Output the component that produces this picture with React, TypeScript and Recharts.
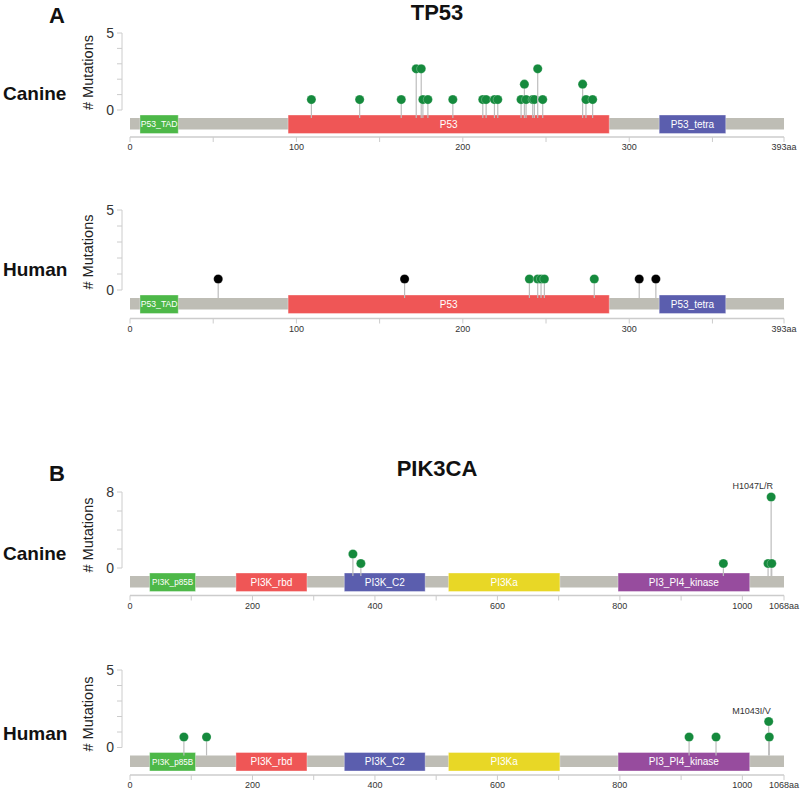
import React from 'react';
import { ComposedChart, XAxis, YAxis, Scatter, ReferenceArea, ReferenceLine } from 'recharts';

const FONT = 'Arial, "Liberation Sans", Helvetica, sans-serif';

// ---------------- TP53 ----------------
const tp53Length = 393;
const tp53DomainNames = ['P53_TAD', 'P53', 'P53_tetra'];
const tp53DomainStarts = [6, 95, 318];
const tp53DomainEnds = [29, 288, 358];
const tp53DomainColors = ['#4db848', '#ef5656', '#5b5eae'];
const tp53XTicks = [0, 50, 100, 150, 200, 250, 300, 350, 393];
const tp53XLabels = [0, 100, 200, 300];

const canineTp53Positions = [109, 138, 163, 172, 175, 176, 179, 194, 212, 214, 219, 221, 235, 237, 238, 242, 243, 245, 248, 272, 274, 278];
const canineTp53Counts = [1, 1, 1, 3, 3, 1, 1, 1, 1, 1, 1, 1, 1, 2, 1, 1, 1, 3, 1, 2, 1, 1];

const humanTp53MissensePositions = [240, 245, 247, 249, 279];
const humanTp53MissenseCounts = [1, 1, 1, 1, 1];
const humanTp53TruncatingPositions = [53, 165, 306, 316];
const humanTp53TruncatingCounts = [1, 1, 1, 1];

// ---------------- PIK3CA ----------------
const pik3caLength = 1068;
const pik3caDomainNames = ['PI3K_p85B', 'PI3K_rbd', 'PI3K_C2', 'PI3Ka', 'PI3_PI4_kinase'];
const pik3caDomainStarts = [32, 173, 350, 520, 797];
const pik3caDomainEnds = [107, 289, 482, 702, 1012];
const pik3caDomainColors = ['#4db848', '#ef5656', '#5b5eae', '#e8d726', '#974c9e'];
const pik3caXTicks = [0, 100, 200, 300, 400, 500, 600, 700, 800, 900, 1000, 1068];
const pik3caXLabels = [0, 200, 400, 600, 800, 1000];

const caninePik3caPositions = [364, 377, 969, 1042, 1047, 1048];
const caninePik3caCounts = [2, 1, 1, 1, 8, 1];
const caninePik3caLabels = ['', '', '', '', 'H1047L/R', ''];

const humanPik3caPositions = [88, 125, 913, 957, 1043, 1044];
const humanPik3caCounts = [1, 1, 1, 1, 2, 1];
const humanPik3caLabels = ['', '', '', '', 'M1043I/V', ''];

const MISSENSE = '#158a3d';
const TRUNCATING = '#000000';

type Mut = { pos: number; count: number; label?: string };
type Dom = { name: string; start: number; end: number; color: string };

const toMuts = (p: number[], c: number[], l?: string[]): Mut[] =>
  p.map((pos, i) => ({ pos, count: c[i], label: l ? l[i] : '' }));
const toDoms = (n: string[], s: number[], e: number[], c: string[]): Dom[] =>
  n.map((name, i) => ({ name, start: s[i], end: e[i], color: c[i] }));

type Geom = { top: number; zero: number; axis: number };

function Panel(props: {
  geom: Geom;
  length: number;
  maxY: number;
  yTicks: number[];
  xTicks: number[];
  xLabels: number[];
  domains: Dom[];
  series: { data: Mut[]; color: string }[];
}) {
  const { geom, length, maxY, yTicks, xTicks, xLabels, domains, series } = props;
  const M = 15;
  const { top, zero, axis } = geom;
  const plotH = axis - top;
  const chartTop = top - M;
  const bottomH = 24;
  const height = M + plotH + bottomH;
  const plotLeft = 122;
  const plotRight = 784;
  const x0 = 130;
  const unitX = (plotRight - x0) / length;
  const xMin = -(x0 - plotLeft) / unitX;
  const perPx = maxY / (zero - top);
  const vMin = -(axis - zero) * perPx;
  // track offsets below the zero line (pixels -> axis units)
  const barTop = -8 * perPx;
  const barBottom = -19.5 * perPx;
  const boxTop = -5 * perPx;
  const boxBottom = -23.5 * perPx;
  const stemBottom = zero + 8 - chartTop;

  const makeShape = (color: string) => (p: any) => {
    const { cx, cy, payload } = p;
    const dy = cy + 5;
    return (
      <g>
        <line x1={cx} x2={cx} y1={stemBottom} y2={dy} stroke="#bdbdbd" strokeWidth={1.2} />
        <circle cx={cx} cy={dy} r={4.6} fill={color} stroke="#ffffff" strokeOpacity={0.5} strokeWidth={0.5} />
        {payload && payload.label ? (
          <text x={cx + 2} y={cy - 3} textAnchor="end" fontSize={9} fill="#333" fontFamily={FONT}>
            {payload.label}
          </text>
        ) : null}
      </g>
    );
  };

  return (
    <div style={{ position: 'absolute', left: 0, top: chartTop }}>
      <ComposedChart width={800} height={height} margin={{ top: M, right: 800 - plotRight, bottom: 0, left: 0 }}>
        <XAxis
          type="number"
          dataKey="pos"
          domain={[xMin, length]}
          ticks={xTicks}
          interval={0}
          axisLine={false}
          tickLine={{ stroke: '#cccccc' }}
          tickSize={5}
          height={bottomH}
          tick={{ fontSize: 9, fill: '#333', fontFamily: FONT }}
          tickFormatter={(v: number) => (v === length ? `${length}aa` : xLabels.includes(v) ? String(v) : '')}
        />
        <YAxis
          yAxisId="v"
          type="number"
          dataKey="count"
          domain={[vMin, maxY]}
          ticks={yTicks}
          interval={0}
          width={plotLeft}
          axisLine={false}
          tickLine={{ stroke: '#cccccc' }}
          tickSize={5}
          tickMargin={3}
          tick={{ fontSize: 14, fill: '#333', fontFamily: FONT }}
          tickFormatter={(v: number) => (v === 0 || v === maxY ? String(v) : '')}
        />
        <ReferenceLine
          yAxisId="v"
          segment={[{ x: xMin, y: 0 }, { x: xMin, y: maxY }]}
          stroke="#cccccc"
          ifOverflow="visible"
        />
        <ReferenceLine
          yAxisId="v"
          segment={[{ x: 0, y: vMin }, { x: length, y: vMin }]}
          stroke="#cccccc"
          strokeWidth={1.5}
          ifOverflow="visible"
        />
        <ReferenceArea
          yAxisId="v"
          x1={0}
          x2={length}
          y1={barTop}
          y2={barBottom}
          fill="#bebdb5"
          fillOpacity={1}
          stroke="none"
          ifOverflow="visible"
        />
        {domains.map((d) => (
          <ReferenceArea
            key={d.name}
            yAxisId="v"
            x1={d.start}
            x2={d.end}
            y1={boxTop}
            y2={boxBottom}
            fill={d.color}
            fillOpacity={1}
            stroke="#ffffff"
            strokeOpacity={0.35}
            ifOverflow="visible"
            label={(lp: any) => {
              const vb = lp.viewBox || {};
              const x = vb.x || 0;
              const y = vb.y || 0;
              const w = vb.width || 0;
              const h = vb.height || 0;
              const fs = Math.min(10, (w - 2) / (d.name.length * 0.6));
              return (
                <text
                  x={x + w / 2}
                  y={y + h / 2}
                  dy="0.35em"
                  textAnchor="middle"
                  fill="#ffffff"
                  fontSize={fs}
                  fontFamily={FONT}
                >
                  {d.name}
                </text>
              );
            }}
          />
        ))}
        {series.map((s, i) => (
          <Scatter
            key={i}
            yAxisId="v"
            data={s.data}
            dataKey="count"
            fill={s.color}
            shape={makeShape(s.color)}
            isAnimationActive={false}
          />
        ))}
      </ComposedChart>
    </div>
  );
}

const T = { fontFamily: FONT, fill: '#111', fontWeight: 'bold' as const };

function Overlay() {
  const yl = (cx: number, cy: number) => (
    <text
      x={cx}
      y={cy}
      transform={`rotate(-90 ${cx} ${cy})`}
      textAnchor="middle"
      fontSize={14.5}
      fill="#222"
      fontFamily={FONT}
    >
      # Mutations
    </text>
  );
  return (
    <svg width={800} height={792} style={{ position: 'absolute', left: 0, top: 0, pointerEvents: 'none' }}>
      <text x={57} y={23} textAnchor="middle" fontSize={22} {...T}>A</text>
      <text x={437} y={19.5} textAnchor="middle" fontSize={22} {...T}>TP53</text>
      <text x={3} y={100} fontSize={19} {...T}>Canine</text>
      {yl(93, 72.5)}
      <text x={3} y={276} fontSize={19} {...T}>Human</text>
      {yl(93, 252)}
      <text x={57} y={481} textAnchor="middle" fontSize={22} {...T}>B</text>
      <text x={437} y={476} textAnchor="middle" fontSize={22} {...T}>PIK3CA</text>
      <text x={3} y={560} fontSize={19} {...T}>Canine</text>
      {yl(93, 535)}
      <text x={3} y={740} fontSize={19} {...T}>Human</text>
      {yl(93, 714)}
    </svg>
  );
}

export default function App() {
  const tp53Doms = toDoms(tp53DomainNames, tp53DomainStarts, tp53DomainEnds, tp53DomainColors);
  const pikDoms = toDoms(pik3caDomainNames, pik3caDomainStarts, pik3caDomainEnds, pik3caDomainColors);
  return (
    <div style={{ position: 'absolute', left: 0, top: 0, width: 800, height: 792, background: '#fff', overflow: 'hidden' }}>
      <Panel
        geom={{ top: 33, zero: 110, axis: 137 }}
        length={tp53Length}
        maxY={5}
        yTicks={[0, 1, 2, 3, 4, 5]}
        xTicks={tp53XTicks}
        xLabels={tp53XLabels}
        domains={tp53Doms}
        series={[{ data: toMuts(canineTp53Positions, canineTp53Counts), color: MISSENSE }]}
      />
      <Panel
        geom={{ top: 209.5, zero: 289.5, axis: 318 }}
        length={tp53Length}
        maxY={5}
        yTicks={[0, 1, 2, 3, 4, 5]}
        xTicks={tp53XTicks}
        xLabels={tp53XLabels}
        domains={tp53Doms}
        series={[
          { data: toMuts(humanTp53TruncatingPositions, humanTp53TruncatingCounts), color: TRUNCATING },
          { data: toMuts(humanTp53MissensePositions, humanTp53MissenseCounts), color: MISSENSE },
        ]}
      />
      <Panel
        geom={{ top: 491.5, zero: 567.5, axis: 595 }}
        length={pik3caLength}
        maxY={8}
        yTicks={[0, 2, 4, 6, 8]}
        xTicks={pik3caXTicks}
        xLabels={pik3caXLabels}
        domains={pikDoms}
        series={[{ data: toMuts(caninePik3caPositions, caninePik3caCounts, caninePik3caLabels), color: MISSENSE }]}
      />
      <Panel
        geom={{ top: 670, zero: 747.5, axis: 775 }}
        length={pik3caLength}
        maxY={5}
        yTicks={[0, 1, 2, 3, 4, 5]}
        xTicks={pik3caXTicks}
        xLabels={pik3caXLabels}
        domains={pikDoms}
        series={[{ data: toMuts(humanPik3caPositions, humanPik3caCounts, humanPik3caLabels), color: MISSENSE }]}
      />
      <Overlay />
    </div>
  );
}
